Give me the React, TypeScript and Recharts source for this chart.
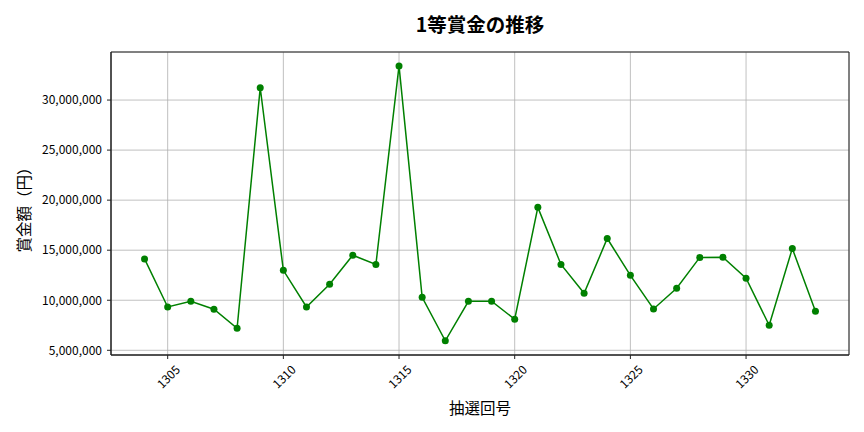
import React from "react";
import {
  LineChart,
  Line,
  XAxis,
  YAxis,
  CartesianGrid,
  ReferenceArea,
} from "recharts";

const rounds = [
  1304, 1305, 1306, 1307, 1308, 1309, 1310, 1311, 1312, 1313, 1314, 1315, 1316, 1317, 1318,
  1319, 1320, 1321, 1322, 1323, 1324, 1325, 1326, 1327, 1328, 1329, 1330, 1331, 1332, 1333,
];
const prizes = [
  14130000, 9330000, 9900000, 9100000, 7200000, 31230000, 12990000, 9330000, 11600000,
  14500000, 13580000, 33410000, 10300000, 5950000, 9900000, 9900000, 8100000, 19280000,
  13580000, 10700000, 16170000, 12490000, 9130000, 11200000, 14280000, 14300000, 12200000,
  7500000, 15170000, 8900000,
];
const xTicks = [1305, 1310, 1315, 1320, 1325, 1330];
const yTicks = [5000000, 10000000, 15000000, 20000000, 25000000, 30000000];
const xDomain: [number, number] = [1302.55, 1334.45];
const yDomain: [number, number] = [4530000, 34800000];

const data = rounds.map((r, i) => ({ round: r, prize: prizes[i] }));

const FONT = '"Noto Sans CJK JP", "Noto Sans", sans-serif';

function RotatedTick(props: any) {
  const { x, y, payload } = props;
  return (
    <g transform={`translate(${x},${y + 15})`}>
      <text
        transform="rotate(-45)"
        textAnchor="middle"
        dominantBaseline="central"
        fontSize={12}
        fill="#000"
        fontFamily={FONT}
      >
        {payload.value}
      </text>
    </g>
  );
}

export default function App() {
  return (
    <div
      style={{
        position: "absolute",
        left: 0,
        top: 0,
        width: 864,
        height: 432,
        background: "#fff",
        fontFamily: FONT,
      }}
    >
      <div
        style={{
          position: "absolute",
          left: 0,
          width: 960,
          top: 11,
          textAlign: "center",
          fontSize: 19.5,
          fontWeight: 700,
          lineHeight: "26px",
          color: "#000",
        }}
      >
        1等賞金の推移
      </div>
      <LineChart
        width={864}
        height={432}
        data={data}
        margin={{ top: 52, right: 15, bottom: 0, left: 11 }}
        style={{ fontFamily: FONT }}
      >
        <CartesianGrid stroke="#b0b0b0" strokeWidth={0.8} />
        <XAxis
          dataKey="round"
          type="number"
          domain={xDomain}
          ticks={xTicks}
          allowDataOverflow
          height={77}
          tickSize={4}
          tickMargin={2}
          axisLine={{ stroke: "#222" }}
          tickLine={{ stroke: "#222" }}
          tick={<RotatedTick />}
        />
        <YAxis
          type="number"
          domain={yDomain}
          ticks={yTicks}
          allowDataOverflow
          width={100}
          tickSize={4}
          tickMargin={5}
          axisLine={{ stroke: "#222" }}
          tickLine={{ stroke: "#222" }}
          tick={{ fontSize: 12, fill: "#000", fontFamily: FONT }}
          tickFormatter={(v: number) => v.toLocaleString("en-US")}
        />
        <ReferenceArea
          x1={xDomain[0]}
          x2={xDomain[1]}
          y1={yDomain[0]}
          y2={yDomain[1]}
          fill="none"
          stroke="#222"
          strokeWidth={1}
          ifOverflow="visible"
        />
        <Line
          type="linear"
          dataKey="prize"
          stroke="#008000"
          strokeWidth={1.5}
          dot={{ r: 3.5, fill: "#008000", stroke: "#008000", strokeWidth: 0 }}
          isAnimationActive={false}
        />
      </LineChart>
      <div
        style={{
          position: "absolute",
          left: 0,
          width: 960,
          top: 396,
          textAlign: "center",
          fontSize: 15.5,
          lineHeight: "22px",
          color: "#000",
        }}
      >
        抽選回号
      </div>
      <div
        style={{
          position: "absolute",
          left: 23,
          top: 206,
          transform: "translate(-50%, -50%) rotate(-90deg)",
          whiteSpace: "nowrap",
          fontSize: 15.5,
          lineHeight: "22px",
          color: "#000",
        }}
      >
        賞金額（円）
      </div>
    </div>
  );
}
